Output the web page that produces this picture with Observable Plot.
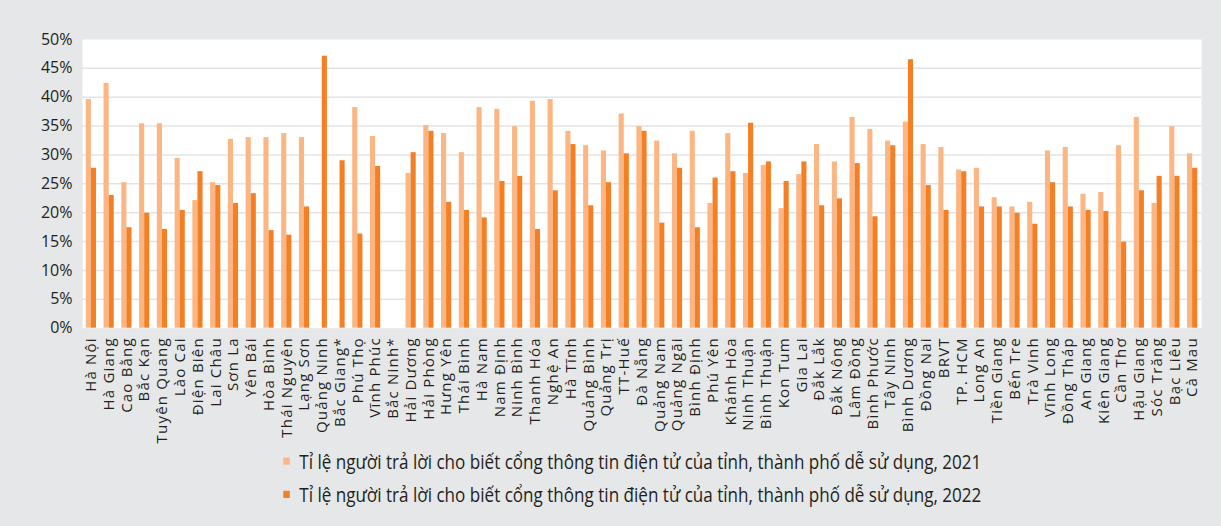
<!DOCTYPE html>
<html><head><meta charset="utf-8">
<script src="https://cdn.jsdelivr.net/npm/d3@7"></script>
<script src="https://cdn.jsdelivr.net/npm/@observablehq/plot@0.6"></script>
<style>
html,body{margin:0;padding:0;background:#e6e7e8;}
#chart{width:1221px;height:526px;position:relative;overflow:hidden;background:#e6e7e8;}
#chart svg{display:block;}
</style></head><body><div id="chart"></div>
<script>
const provinces = ["Hà Nội","Hà Giang","Cao Bằng","Bắc Kạn","Tuyên Quang","Lào Cai","Điện Biên","Lai Châu","Sơn La","Yên Bái","Hòa Bình","Thái Nguyên","Lạng Sơn","Quảng Ninh","Bắc Giang*","Phú Thọ","Vĩnh Phúc","Bắc Ninh*","Hải Dương","Hải Phòng","Hưng Yên","Thái Bình","Hà Nam","Nam Định","Ninh Bình","Thanh Hóa","Nghệ An","Hà Tĩnh","Quảng Bình","Quảng Trị","TT-Huế","Đà Nẵng","Quảng Nam","Quảng Ngãi","Bình Định","Phú Yên","Khánh Hòa","Ninh Thuận","Bình Thuận","Kon Tum","Gia Lai","Đắk Lắk","Đắk Nông","Lâm Đồng","Bình Phước","Tây Ninh","Bình Dương","Đồng Nai","BRVT","TP. HCM","Long An","Tiền Giang","Bến Tre","Trà Vinh","Vĩnh Long","Đồng Tháp","An Giang","Kiên Giang","Cần Thơ","Hậu Giang","Sóc Trăng","Bạc Liêu","Cà Mau"];

const values2021 = [39.6,42.4,25.2,35.4,35.4,29.4,22.1,25.2,32.7,33.0,33.0,33.7,33.0,null,null,38.2,33.2,null,26.8,35.1,33.7,30.4,38.2,37.9,34.9,39.3,39.6,34.1,31.6,30.7,37.1,34.9,32.4,30.2,34.1,21.6,33.7,26.8,28.2,20.7,26.6,31.8,28.8,36.5,34.4,32.4,35.7,31.8,31.3,27.4,27.7,22.6,21.0,21.8,30.7,31.3,23.2,23.5,31.6,36.5,21.6,34.9,30.2];

const values2022 = [27.7,23.0,17.4,19.9,17.1,20.4,27.1,24.7,21.6,23.3,16.9,16.1,21.0,47.1,29.0,16.3,28.0,null,30.4,34.1,21.8,20.4,19.1,25.4,26.3,17.1,23.8,31.8,21.2,25.2,30.2,34.1,18.2,27.7,17.4,26.0,27.1,35.5,28.8,25.4,28.8,21.2,22.4,28.5,19.3,31.6,46.5,24.7,20.4,27.1,21.0,21.0,19.9,18.0,25.2,21.0,20.4,20.2,14.9,23.8,26.3,26.3,27.7];

const yTicks = [0,5,10,15,20,25,30,35,40,45,50];
const seriesLabels = [
  "Tỉ lệ người trả lời cho biết cổng thông tin điện tử của tỉnh, thành phố dễ sử dụng, 2021",
  "Tỉ lệ người trả lời cho biết cổng thông tin điện tử của tỉnh, thành phố dễ sử dụng, 2022"
];
const seriesColors = ["#fcb683", "#f47f24"];

const rows = provinces.map((p, i) => ({province: p, v2021: values2021[i], v2022: values2022[i]}));

const W = 1221, H = 446;
const mL = 82, mR = 20;
const band = (W - mL - mR) / provinces.length;
const bw = 5.1;

const chart = Plot.plot({
  width: W, height: H,
  marginLeft: mL, marginRight: mR, marginTop: 39, marginBottom: H - 327.7,
  style: {background: "transparent", fontFamily: "'Open Sans', sans-serif", color: "#231f20"},
  x: {domain: provinces, padding: 0, axis: null},
  y: {domain: [0, 50], axis: null},
  marks: [
    Plot.frame({fill: "white", stroke: null}),
    Plot.gridY(yTicks.filter(t => t > 0 && t < 50), {stroke: "#e4e4e4", strokeOpacity: 1, strokeWidth: 1.5}),
    Plot.barY(rows.filter(d => d.v2021 != null), {x: "province", y: "v2021", fill: seriesColors[0], insetLeft: band / 2 - bw, insetRight: band / 2}),
    Plot.barY(rows.filter(d => d.v2022 != null), {x: "province", y: "v2022", fill: seriesColors[1], insetLeft: band / 2, insetRight: band / 2 - bw}),
    Plot.axisY({ticks: yTicks, tickSize: 0, tickPadding: 10, tickFormat: d => d + "%", fontSize: 16, label: null}),
    Plot.axisX({tickSize: 0, tickRotate: -90, tickPadding: 9, fontSize: 15, label: null})
  ]
});
chart.querySelectorAll("g[aria-label='x-axis tick label'] text").forEach(t => t.setAttribute("letter-spacing", "1.2"));
document.getElementById("chart").appendChild(chart);

// legend
const ns = "http://www.w3.org/2000/svg";
const leg = document.createElementNS(ns, "svg");
leg.setAttribute("width", W);
leg.setAttribute("height", 526 - H);
leg.style.overflow = "visible";
const rowY = [469 - H, 502.3 - H];
seriesLabels.forEach((lab, i) => {
  const r = document.createElementNS(ns, "rect");
  r.setAttribute("x", 283.3); r.setAttribute("y", rowY[i] - 11.5);
  r.setAttribute("width", 6.5); r.setAttribute("height", 7.2);
  r.setAttribute("fill", seriesColors[i]);
  leg.appendChild(r);
  const t = document.createElementNS(ns, "text");
  t.setAttribute("x", 299.3); t.setAttribute("y", rowY[i]);
  t.setAttribute("font-family", "'Open Sans', sans-serif");
  t.setAttribute("font-size", 19.5);
  t.setAttribute("fill", "#231f20");
  t.setAttribute("textLength", 682);
  t.setAttribute("lengthAdjust", "spacingAndGlyphs");
  t.textContent = lab;
  leg.appendChild(t);
});
document.getElementById("chart").appendChild(leg);
</script>
</body></html>
